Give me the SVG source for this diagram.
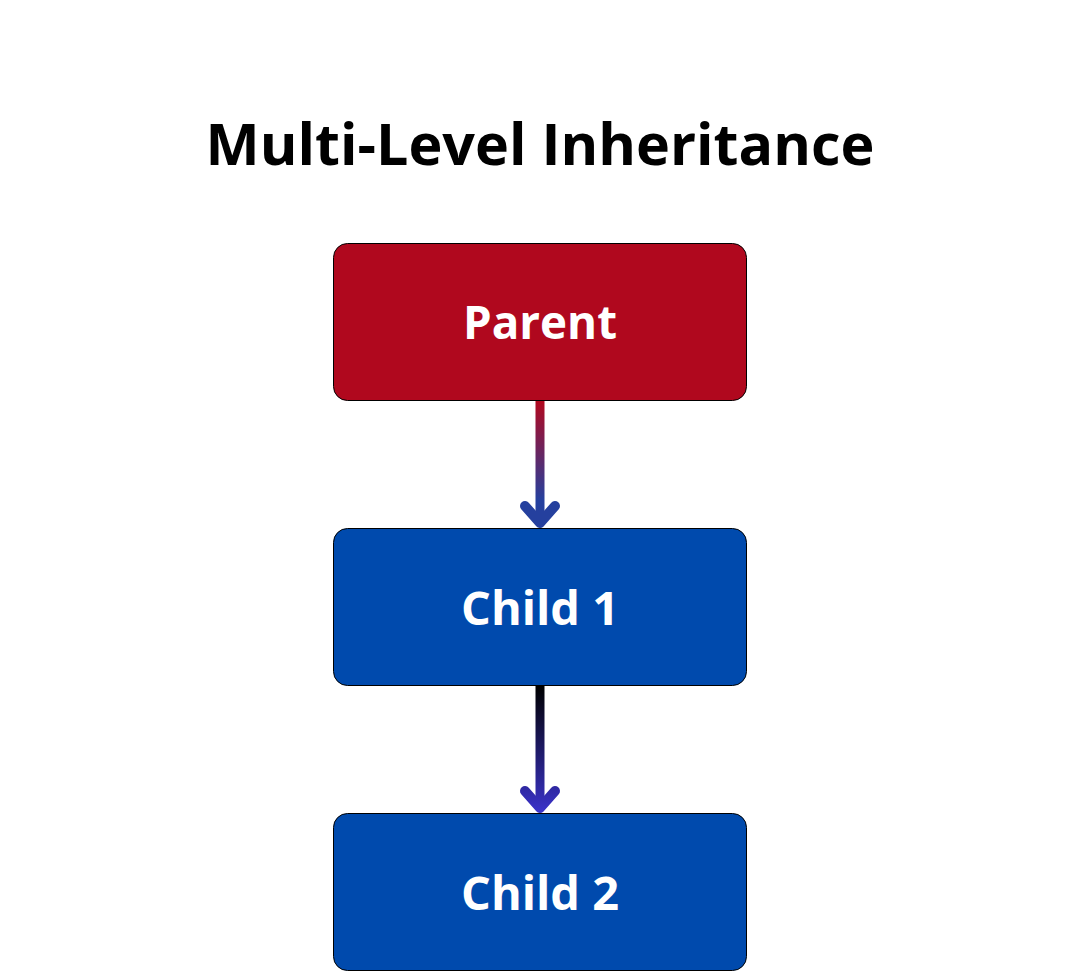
<svg xmlns="http://www.w3.org/2000/svg" width="1080" height="973" viewBox="0 0 1080 973">
<style>
.box{stroke:#000;stroke-width:1}
.lbl{font-family:"Open Sans","Liberation Sans",sans-serif;font-weight:700;font-size:46px;fill:#fff;text-anchor:middle}
.title{font-family:"Open Sans","Liberation Sans",sans-serif;font-weight:700;font-size:58px;fill:#000;text-anchor:middle}
.shaft{fill:none;stroke-width:9}
.head{fill:none;stroke-width:10;stroke-linecap:round;stroke-linejoin:round}
</style>
<defs>
<linearGradient id="g1" gradientUnits="userSpaceOnUse" x1="0" y1="401" x2="0" y2="500">
<stop offset="0" stop-color="#B2081E"/>
<stop offset="1" stop-color="#25409E"/>
</linearGradient>
<linearGradient id="g2" gradientUnits="userSpaceOnUse" x1="0" y1="686" x2="0" y2="811">
<stop offset="0" stop-color="#000000"/>
<stop offset="1" stop-color="#3A32C8"/>
</linearGradient>
</defs>
<rect width="1080" height="973" fill="#fff"/>
<text class="title" x="540" y="165" textLength="669" lengthAdjust="spacingAndGlyphs">Multi-Level Inheritance</text>
<g id="connectors">
<g id="c1">
<line class="shaft" x1="540" y1="401" x2="540" y2="522" stroke="url(#g1)"/>
<polyline class="head" points="525,506 540,523 555,506" stroke="url(#g1)"/>
</g>
<g id="c2">
<line class="shaft" x1="540" y1="686" x2="540" y2="807" stroke="url(#g2)"/>
<polyline class="head" points="525,791 540,808 555,791" stroke="url(#g2)"/>
</g>
</g>
<g id="parent">
<rect class="box" x="333.5" y="243.5" width="413" height="157" rx="14" fill="#B0081E"/>
<text class="lbl" x="540" y="339" textLength="154" lengthAdjust="spacingAndGlyphs">Parent</text>
</g>
<g id="child1">
<rect class="box" x="333.5" y="528.5" width="413" height="157" rx="14" fill="#004AAD"/>
<text class="lbl" x="540" y="625" textLength="158" lengthAdjust="spacingAndGlyphs">Child 1</text>
</g>
<g id="child2">
<rect class="box" x="333.5" y="813.5" width="413" height="157" rx="14" fill="#004AAD"/>
<text class="lbl" x="540" y="910" textLength="158" lengthAdjust="spacingAndGlyphs">Child 2</text>
</g>
</svg>
